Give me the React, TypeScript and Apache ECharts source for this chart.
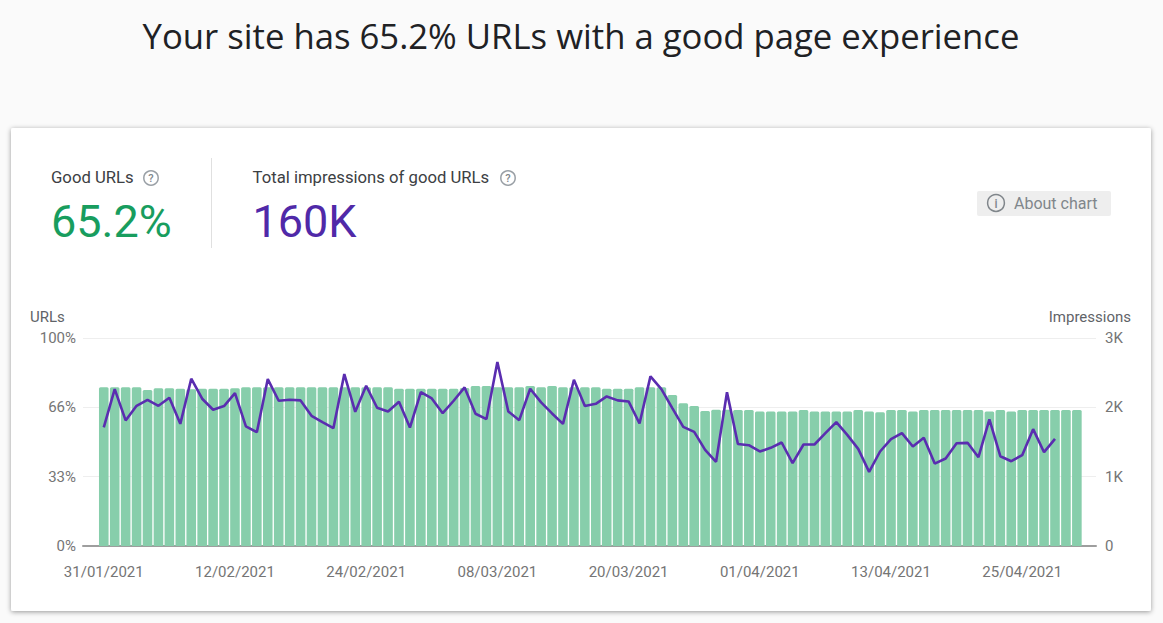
import React, { useEffect, useRef } from "react";
import * as echarts from "echarts";

const titleText = "Your site has 65.2% URLs with a good page experience";
const dateTickDays = [0, 12, 24, 36, 48, 60, 72, 84];
const dateTickLabels = ["31/01/2021", "12/02/2021", "24/02/2021", "08/03/2021", "20/03/2021", "01/04/2021", "13/04/2021", "25/04/2021"];
const percentTicks = [0, 100 / 3, 200 / 3, 100];

const goodUrlsPercent = [
  76.3, 76.3, 76.3, 76.3, 75.0, 75.8, 75.8, 75.6, 75.4, 75.6, 75.6, 75.6, 75.8, 76.3, 76.3, 76.3, 76.3, 76.3, 76.3, 76.3,
  76.3, 76.3, 76.3, 76.3, 76.3, 76.3, 76.3, 75.6, 75.6, 75.6, 75.6, 75.6, 75.6, 76.0, 76.9, 76.9, 76.3, 76.3, 76.3, 76.9,
  76.3, 76.9, 76.3, 76.3, 76.3, 76.3, 75.6, 75.6, 75.6, 76.3, 76.3, 76.3, 72.6, 68.6, 67.3, 64.9, 65.5, 65.5, 65.4, 65.4,
  64.7, 64.7, 64.7, 64.7, 65.4, 64.7, 64.7, 64.7, 64.7, 65.4, 64.7, 64.3, 65.4, 65.4, 64.7, 65.4, 65.4, 65.4, 65.4, 65.4,
  65.4, 64.7, 65.4, 64.7, 65.4, 65.4, 65.4, 65.4, 65.4, 65.4,
];

const impressions = [
  1710, 2263, 1811, 2022, 2109, 2022, 2138, 1762, 2413, 2124, 1965, 2018, 2205, 1724, 1642, 2408, 2095, 2109, 2100, 1878,
  1787, 1700, 2480, 1936, 2311, 1994, 1941, 2080, 1709, 2220, 2128, 1916, 2095, 2287, 1907, 1830, 2653, 1941, 1815, 2268,
  2071, 1912, 1762, 2398, 2018, 2051, 2157, 2100, 2085, 1767, 2446, 2263, 1989, 1719, 1647, 1387, 1213, 2218, 1471, 1454,
  1363, 1416, 1493, 1194, 1464, 1464, 1628, 1787, 1603, 1401, 1069, 1363, 1541, 1628, 1435, 1560, 1189, 1262, 1483, 1488,
  1281, 1825, 1295, 1223, 1310, 1685, 1353, 1546,
];

const FONT = "Roboto";
const AXIS_GREY = "#757575";

function helpIcon(cx: number, cy: number) {
  return [
    { type: "circle", shape: { cx, cy, r: 7.2 }, style: { fill: "none", stroke: "#9aa0a6", lineWidth: 1.5 }, z: 5 },
    { type: "text", x: cx, y: cy + 0.5, style: { text: "?", fill: "#80868b", font: `500 11px ${FONT}`, textAlign: "center", textVerticalAlign: "middle" }, z: 5 },
  ];
}

export default function App() {
  const ref = useRef<HTMLDivElement>(null);
  useEffect(() => {
    document.body.style.margin = "0";
    const chart = echarts.init(ref.current!, undefined, { renderer: "svg" });
    chart.setOption({
      animation: false,
      backgroundColor: "#fafafa",
      grid: { left: 83, right: 67, top: 338, bottom: 77, containLabel: false },
      xAxis: {
        type: "value",
        min: -1.9,
        max: 90.75,
        splitLine: { show: false },
        axisLine: { show: true, onZero: false, lineStyle: { color: "#9e9e9e", width: 2 } },
        axisTick: { show: false },
        axisLabel: {
          customValues: dateTickDays,
          formatter: (v: number) => dateTickLabels[dateTickDays.indexOf(v)] ?? "",
          color: AXIS_GREY,
          fontFamily: FONT,
          fontSize: 15,
          margin: 18,
          hideOverlap: false,
        },
      },
      yAxis: [
        {
          type: "value",
          min: 0,
          max: 100,
          splitLine: { show: false },
          axisLine: { show: false },
          axisTick: { show: false },
          axisLabel: {
            customValues: percentTicks,
            formatter: (v: number) => `${Math.floor(v)}%`,
            color: AXIS_GREY,
            fontFamily: FONT,
            fontSize: 15,
            margin: 7,
          },
        },
        {
          type: "value",
          min: 0,
          max: 3000,
          interval: 1000,
          position: "right",
          splitLine: { show: true, lineStyle: { color: "#eeeeee", width: 1 } },
          axisLine: { show: false },
          axisTick: { show: false },
          axisLabel: {
            formatter: (v: number) => (v === 0 ? "0" : `${v / 1000}K`),
            color: AXIS_GREY,
            fontFamily: FONT,
            fontSize: 15,
            margin: 9,
          },
        },
      ],
      series: [
        {
          type: "bar",
          yAxisIndex: 0,
          barWidth: 9.6,
          data: goodUrlsPercent.map((v, i) => [i, v]),
          itemStyle: { color: "#87ceab", borderRadius: [1.5, 1.5, 0, 0] },
          silent: true,
          z: 2,
        },
        {
          type: "line",
          yAxisIndex: 1,
          data: impressions.map((v, i) => [i, v]),
          showSymbol: false,
          symbol: "none",
          lineStyle: { color: "#5a2db0", width: 2.6 },
          silent: true,
          z: 3,
        },
      ],
      graphic: [
        { type: "rect", z: -10, shape: { x: 11, y: 128, width: 1140, height: 483, r: 2 }, style: { fill: "#ffffff", shadowBlur: 5, shadowColor: "rgba(0,0,0,0.4)", shadowOffsetY: 1 } },
        { type: "text", x: 581, y: 35, style: { text: titleText, fill: "#202124", font: `400 34.7px "Open Sans"`, textAlign: "center", textVerticalAlign: "middle" } },
        { type: "text", x: 51, y: 177.5, style: { text: "Good URLs", fill: "#3c4043", font: `400 16.7px ${FONT}`, textVerticalAlign: "middle" } },
        ...helpIcon(151, 178),
        { type: "text", x: 51, y: 221, style: { text: "65.2%", fill: "#189d5e", font: `400 45px ${FONT}`, textVerticalAlign: "middle" } },
        { type: "line", shape: { x1: 211.5, y1: 158, x2: 211.5, y2: 248 }, style: { stroke: "#e0e0e0", lineWidth: 1 } },
        { type: "text", x: 252.5, y: 177.5, style: { text: "Total impressions of good URLs", fill: "#3c4043", font: `400 16.7px ${FONT}`, textVerticalAlign: "middle" } },
        ...helpIcon(508, 178),
        { type: "text", x: 252.5, y: 221, style: { text: "160K", fill: "#5029a8", font: `400 45px ${FONT}`, textVerticalAlign: "middle" } },
        { type: "rect", shape: { x: 977, y: 191, width: 134, height: 25, r: 2 }, style: { fill: "#eeeeee" } },
        { type: "circle", shape: { cx: 996, cy: 203, r: 8.4 }, style: { fill: "none", stroke: "#80868b", lineWidth: 1.5 } },
        { type: "text", x: 996, y: 203.5, style: { text: "i", fill: "#80868b", font: `500 12px ${FONT}`, textAlign: "center", textVerticalAlign: "middle" } },
        { type: "text", x: 1014, y: 203.5, style: { text: "About chart", fill: "#80868b", font: `400 16px ${FONT}`, textVerticalAlign: "middle" } },
        { type: "text", x: 30, y: 317, style: { text: "URLs", fill: "#5f6368", font: `400 15px ${FONT}`, textVerticalAlign: "middle" } },
        { type: "text", x: 1131, y: 317, style: { text: "Impressions", fill: "#5f6368", font: `400 15px ${FONT}`, textAlign: "right", textVerticalAlign: "middle" } },
      ],
    });
    return () => chart.dispose();
  }, []);
  return <div ref={ref} style={{ width: 1163, height: 623 }} />;
}
